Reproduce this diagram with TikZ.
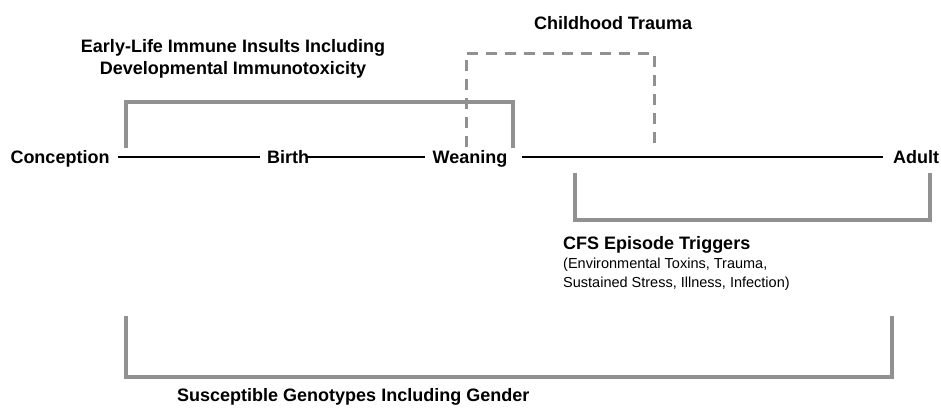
\documentclass[tikz,border=0pt]{standalone}
\usepackage{fontspec}
\setmainfont{Liberation Sans}
\usetikzlibrary{positioning}

\definecolor{bracketgray}{RGB}{145,145,145}

\tikzset{
    stage/.style={font=\fontsize{18}{22}\selectfont\bfseries, inner sep=0pt, text height=13pt, text depth=0pt},
    heading/.style={font=\fontsize{18}{22}\selectfont\bfseries, inner sep=0pt, align=center},
    detail/.style={font=\fontsize{14.5}{19}\selectfont, inner sep=0pt, align=left},
    timeline/.style={draw=black, line width=2.3pt},
    bracket/.style={draw=bracketgray, line width=3.2pt},
    dashbracket/.style={draw=bracketgray, line width=3pt, dash pattern=on 11pt off 8pt}
}

\begin{document}
\begin{tikzpicture}[x=1pt, y=-1pt]
        \useasboundingbox (0, 0) rectangle (941, 407);

        % Stages on the time line
        \node [stage] (conception) at (60, 157) {Conception};
        \node [stage] (birth) at (288, 157) {Birth};
        \node [stage] (weaning) at (470, 157) {Weaning};
        \node [stage] (adult) at (916, 157) {Adult};

        \draw [timeline, shorten <=8pt, shorten >=7pt] (conception.east) -- (birth.west);
        \draw [timeline, shorten <=-3pt, shorten >=7.5pt] (birth.east) -- (weaning.west);
        \draw [timeline, shorten <=14.5pt, shorten >=10pt] (weaning.east) -- (adult.west);

        % Early-life insults
        \node [heading] (earlylife) at (233, 59) {Early-Life Immune Insults Including\\Developmental Immunotoxicity};
        \draw [bracket] (126, 148) -- (126, 102) -- (513, 102) -- (513, 148);

        % Childhood trauma
        \node [heading] (trauma) at (613, 23) {Childhood Trauma};
        \draw [dashbracket] (466, 147) -- (466, 53) -- (654, 53) -- (654, 147);

        % CFS episode triggers
        \draw [bracket] (575, 173) -- (575, 220) -- (930, 220) -- (930, 173);
        \node [heading, anchor=west] (cfstitle) at (563, 245) {CFS Episode Triggers};
        \node [detail, below=4pt of cfstitle.south west, anchor=north west] (cfsdetail)
            {(Environmental Toxins, Trauma,\\Sustained Stress, Illness, Infection)};

        % Genotypes
        \draw [bracket] (126, 316) -- (126, 377) -- (892, 377) -- (892, 316);
        \node [heading, anchor=west] (genotypes) at (177, 397) {Susceptible Genotypes Including Gender};
    \end{tikzpicture}
\end{document}
